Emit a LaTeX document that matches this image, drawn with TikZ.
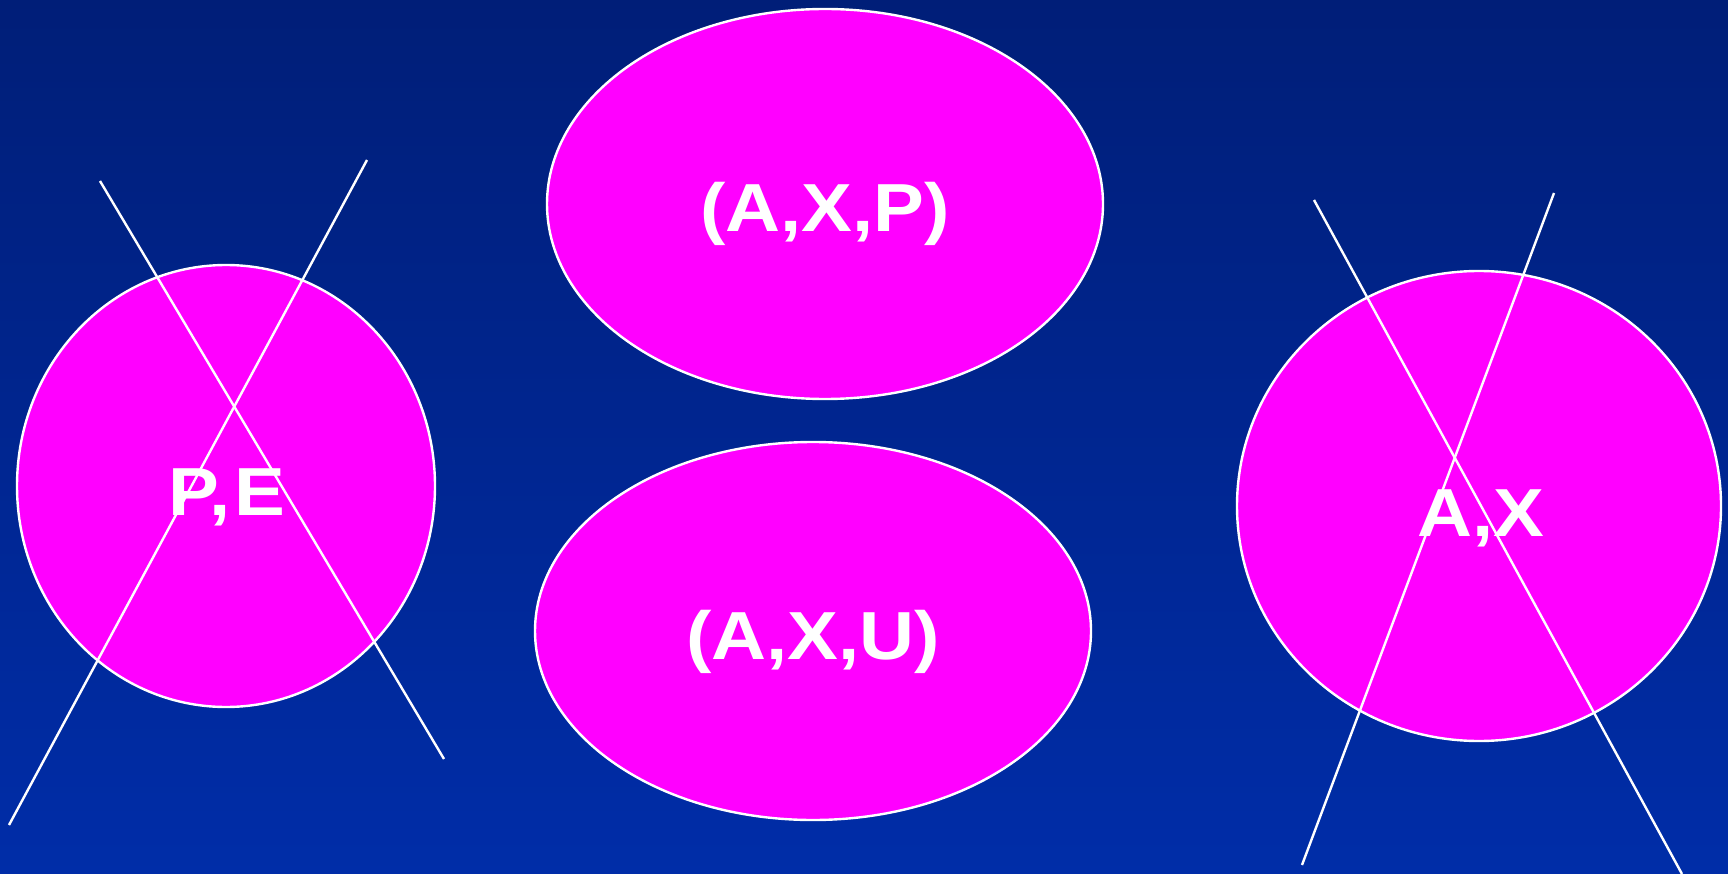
\documentclass[tikz,border=0pt]{standalone}
\usepackage{fontspec}
\setmainfont{Liberation Sans}
\usetikzlibrary{shapes.geometric}
\definecolor{bgtop}{HTML}{001E78}
\definecolor{bgbot}{HTML}{002DA8}
\definecolor{mag}{HTML}{FF00FF}
\begin{document}
\begin{tikzpicture}[x=1pt,y=-1pt,
  blob/.style={ellipse,draw=white,line width=2.4pt,fill=mag,inner sep=0pt},
  cross/.style={draw=white,line width=2.4pt},
  lab/.style={text=white,font=\fontsize{68}{68}\selectfont\bfseries,anchor=base,inner sep=0pt,xscale=1.12}]
\shade[top color=bgtop,bottom color=bgbot] (0,0) rectangle (1728,874);
\useasboundingbox (0,0) rectangle (1728,874);
\node[blob,minimum width=418pt,minimum height=442pt] (pe) at (226,486) {};
\node[blob,minimum width=556pt,minimum height=390pt] (axp) at (825,204) {};
\node[blob,minimum width=556pt,minimum height=378pt] (axu) at (813,631) {};
\node[blob,minimum width=484pt,minimum height=470pt] (ax) at (1479,506) {};
\coordinate (l1a) at (100,181); \coordinate (l1b) at (444,759);
\coordinate (l2a) at (367,160); \coordinate (l2b) at (9,825);
\coordinate (r1a) at (1314,200); \coordinate (r1b) at (1682,874);
\coordinate (r2a) at (1554,193); \coordinate (r2b) at (1302,865);
\draw[cross] (l1a) -- (l1b);
\draw[cross] (l2a) -- (l2b);
\draw[cross] (r1a) -- (r1b);
\draw[cross] (r2a) -- (r2b);
\node[lab] (tpe) at (227,515) {P,\kern3pt E};
\node[lab] (taxp) at (825,232) {(A,X,P)};
\node[lab] (taxu) at (813,659) {(A,X,U)};
\node[lab] (tax) at (1481,536) {A,X};
\end{tikzpicture}
\end{document}
